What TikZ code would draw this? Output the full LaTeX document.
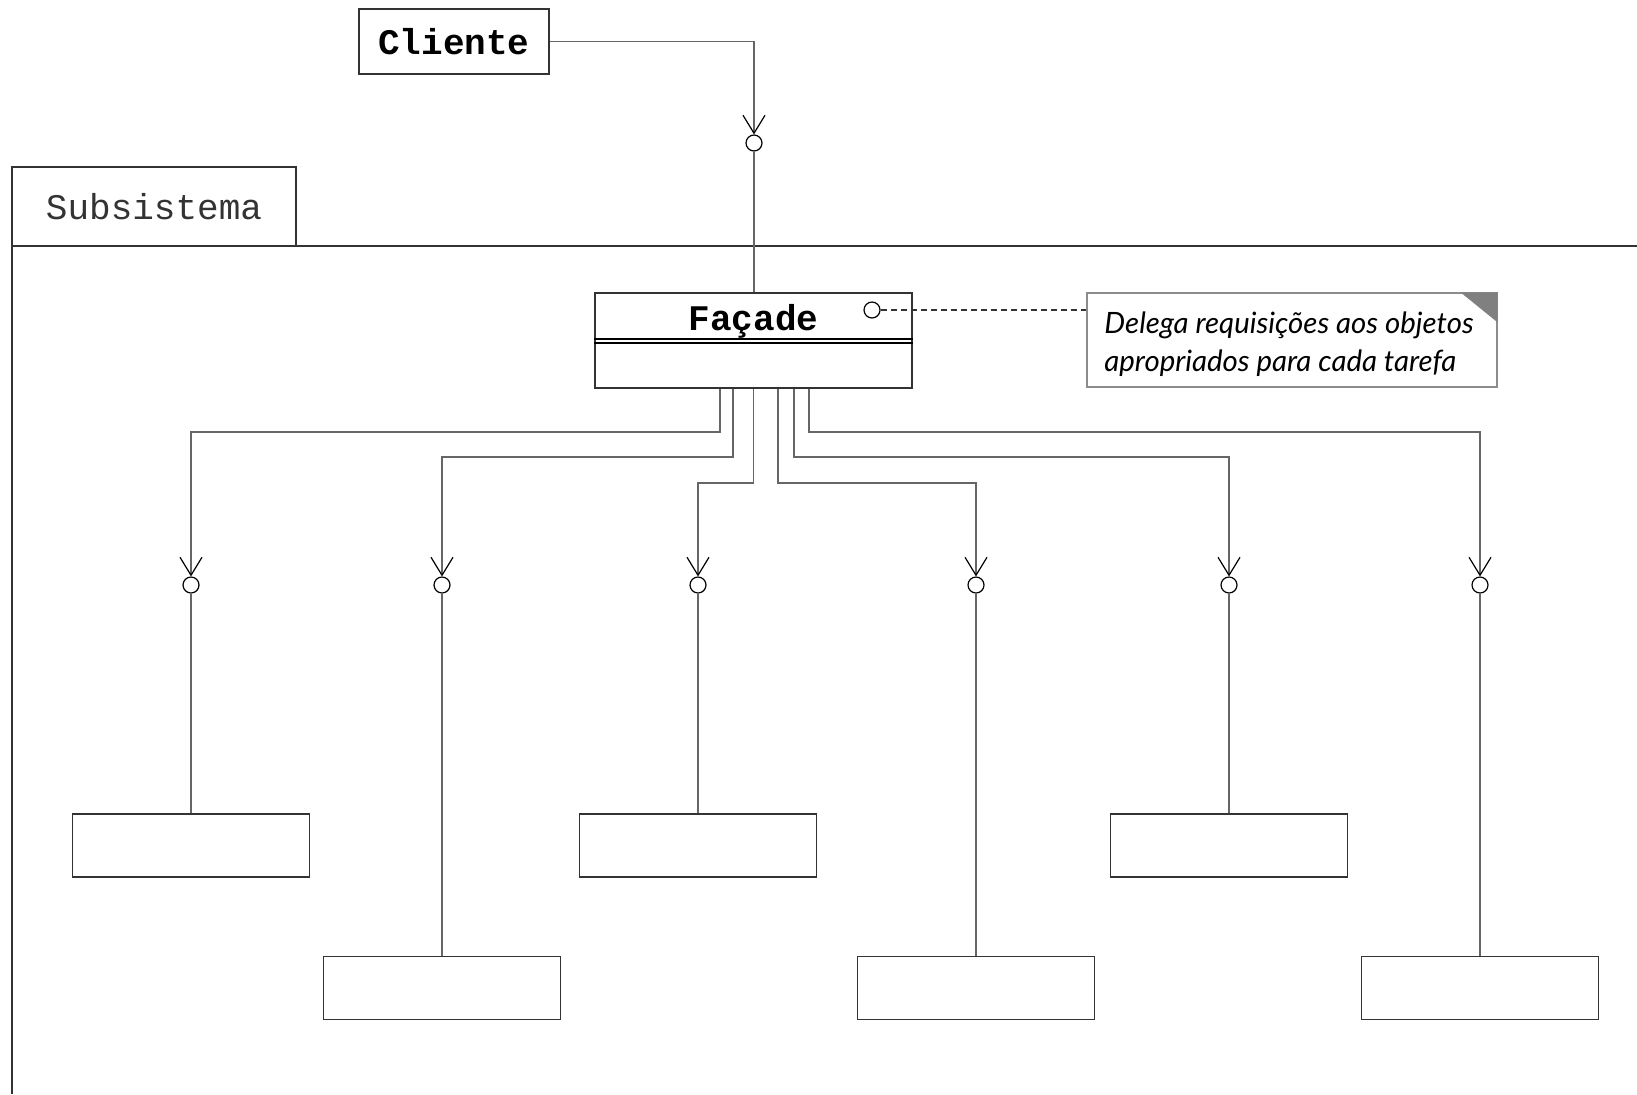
\documentclass[tikz,border=0pt]{standalone}
\usepackage{fontspec}
\setmonofont{Liberation Mono}
\newfontfamily\notafont{Lato}
\usetikzlibrary{arrows.meta}
\tikzset{
  classe/.style={draw=black!80, line width=0.75pt, fill=white, inner sep=0pt},
  caixa/.style={classe, minimum width=118.5pt, minimum height=31.5pt},
  lig/.style={draw=black!60, line width=0.8pt},
  seta/.style={lig, -{Straight Barb[length=9pt, width=11pt, color=black, line width=0.6pt]}},
  interf/.style={circle, draw=black, line width=0.6pt, fill=white, minimum size=8pt, inner sep=0pt},
  mono/.style={font=\ttfamily\fontsize{18}{20}\selectfont},
  monob/.style={font=\ttfamily\bfseries\fontsize{18}{20}\selectfont},
}

\begin{document}
\begin{tikzpicture}[x=0.5pt, y=-0.5pt]
\useasboundingbox (0,0) rectangle (1637,1094);
% pacote Subsistema
\draw[black!80, line width=0.75pt] (12,1094) -- (12,167) -- (296,167) -- (296,246);
\draw[black!80, line width=0.75pt] (12,246) -- (1637,246);
\node[mono, text=black!80] (subsis) at (154,207) {Subsistema};

\node[classe, monob, minimum width=95pt, minimum height=32.5pt] (cliente) at (454,41.5) {Cliente};
\node[interf] (icli) at (754,143) {};

\node[classe, minimum width=158.5pt, minimum height=47.5pt] (facade) at (753.5,340.5) {};
\node[monob] (nomefac) at (753.5,321) {Façade};
\draw[black, line width=0.8pt] ([yshift=0.75pt]facade.west) -- ([yshift=0.75pt]facade.east);
\draw[black, line width=0.8pt] ([yshift=-1.25pt]facade.west) -- ([yshift=-1.25pt]facade.east);
\node[interf] (ifac) at (872,310) {};

% nota
\node[draw=black!45, line width=0.6pt, minimum width=205pt, minimum height=47pt] (nota) at (1292,340) {};
\node[align=left, anchor=west, inner sep=0pt, font=\notafont\itshape\fontsize{14.7}{18.8}\selectfont]
  (textonota) at (1104,344) {Delega requisições aos objetos\\apropriados para cada tarefa};
\fill[black!50] (nota.north east) -- ++(-37,0) -- ++(37,30) -- cycle;
\draw[dashed, dash pattern=on 3pt off 2pt, black!80, line width=0.6pt] (ifac) -- (nota.west |- ifac);

\draw[seta] (cliente.east) -| (icli);
\draw[lig] (icli) -- (icli |- facade.north);

% classes do subsistema
\foreach \n/\x/\y in {1/191/845.5, 2/442/988, 3/698/845.5, 4/976/988, 5/1229/845.5, 6/1480/988}{
  \node[interf] (i\n) at (\x,585) {};
  \node[caixa] (c\n) at (\x,\y) {};
  \draw[lig] (i\n) -- (c\n);
}
\draw[seta] ([xshift=-16.75pt]facade.south) -- ++(0,43) -| (i1);
\draw[seta] ([xshift=-10.25pt]facade.south) -- ++(0,68) -| (i2);
\draw[seta] (facade.south) -- ++(0,94) -| (i3);
\draw[seta] ([xshift=12.25pt]facade.south) -- ++(0,94) -| (i4);
\draw[seta] ([xshift=20.25pt]facade.south) -- ++(0,68) -| (i5);
\draw[seta] ([xshift=27.75pt]facade.south) -- ++(0,43) -| (i6);
\end{tikzpicture}
\end{document}
